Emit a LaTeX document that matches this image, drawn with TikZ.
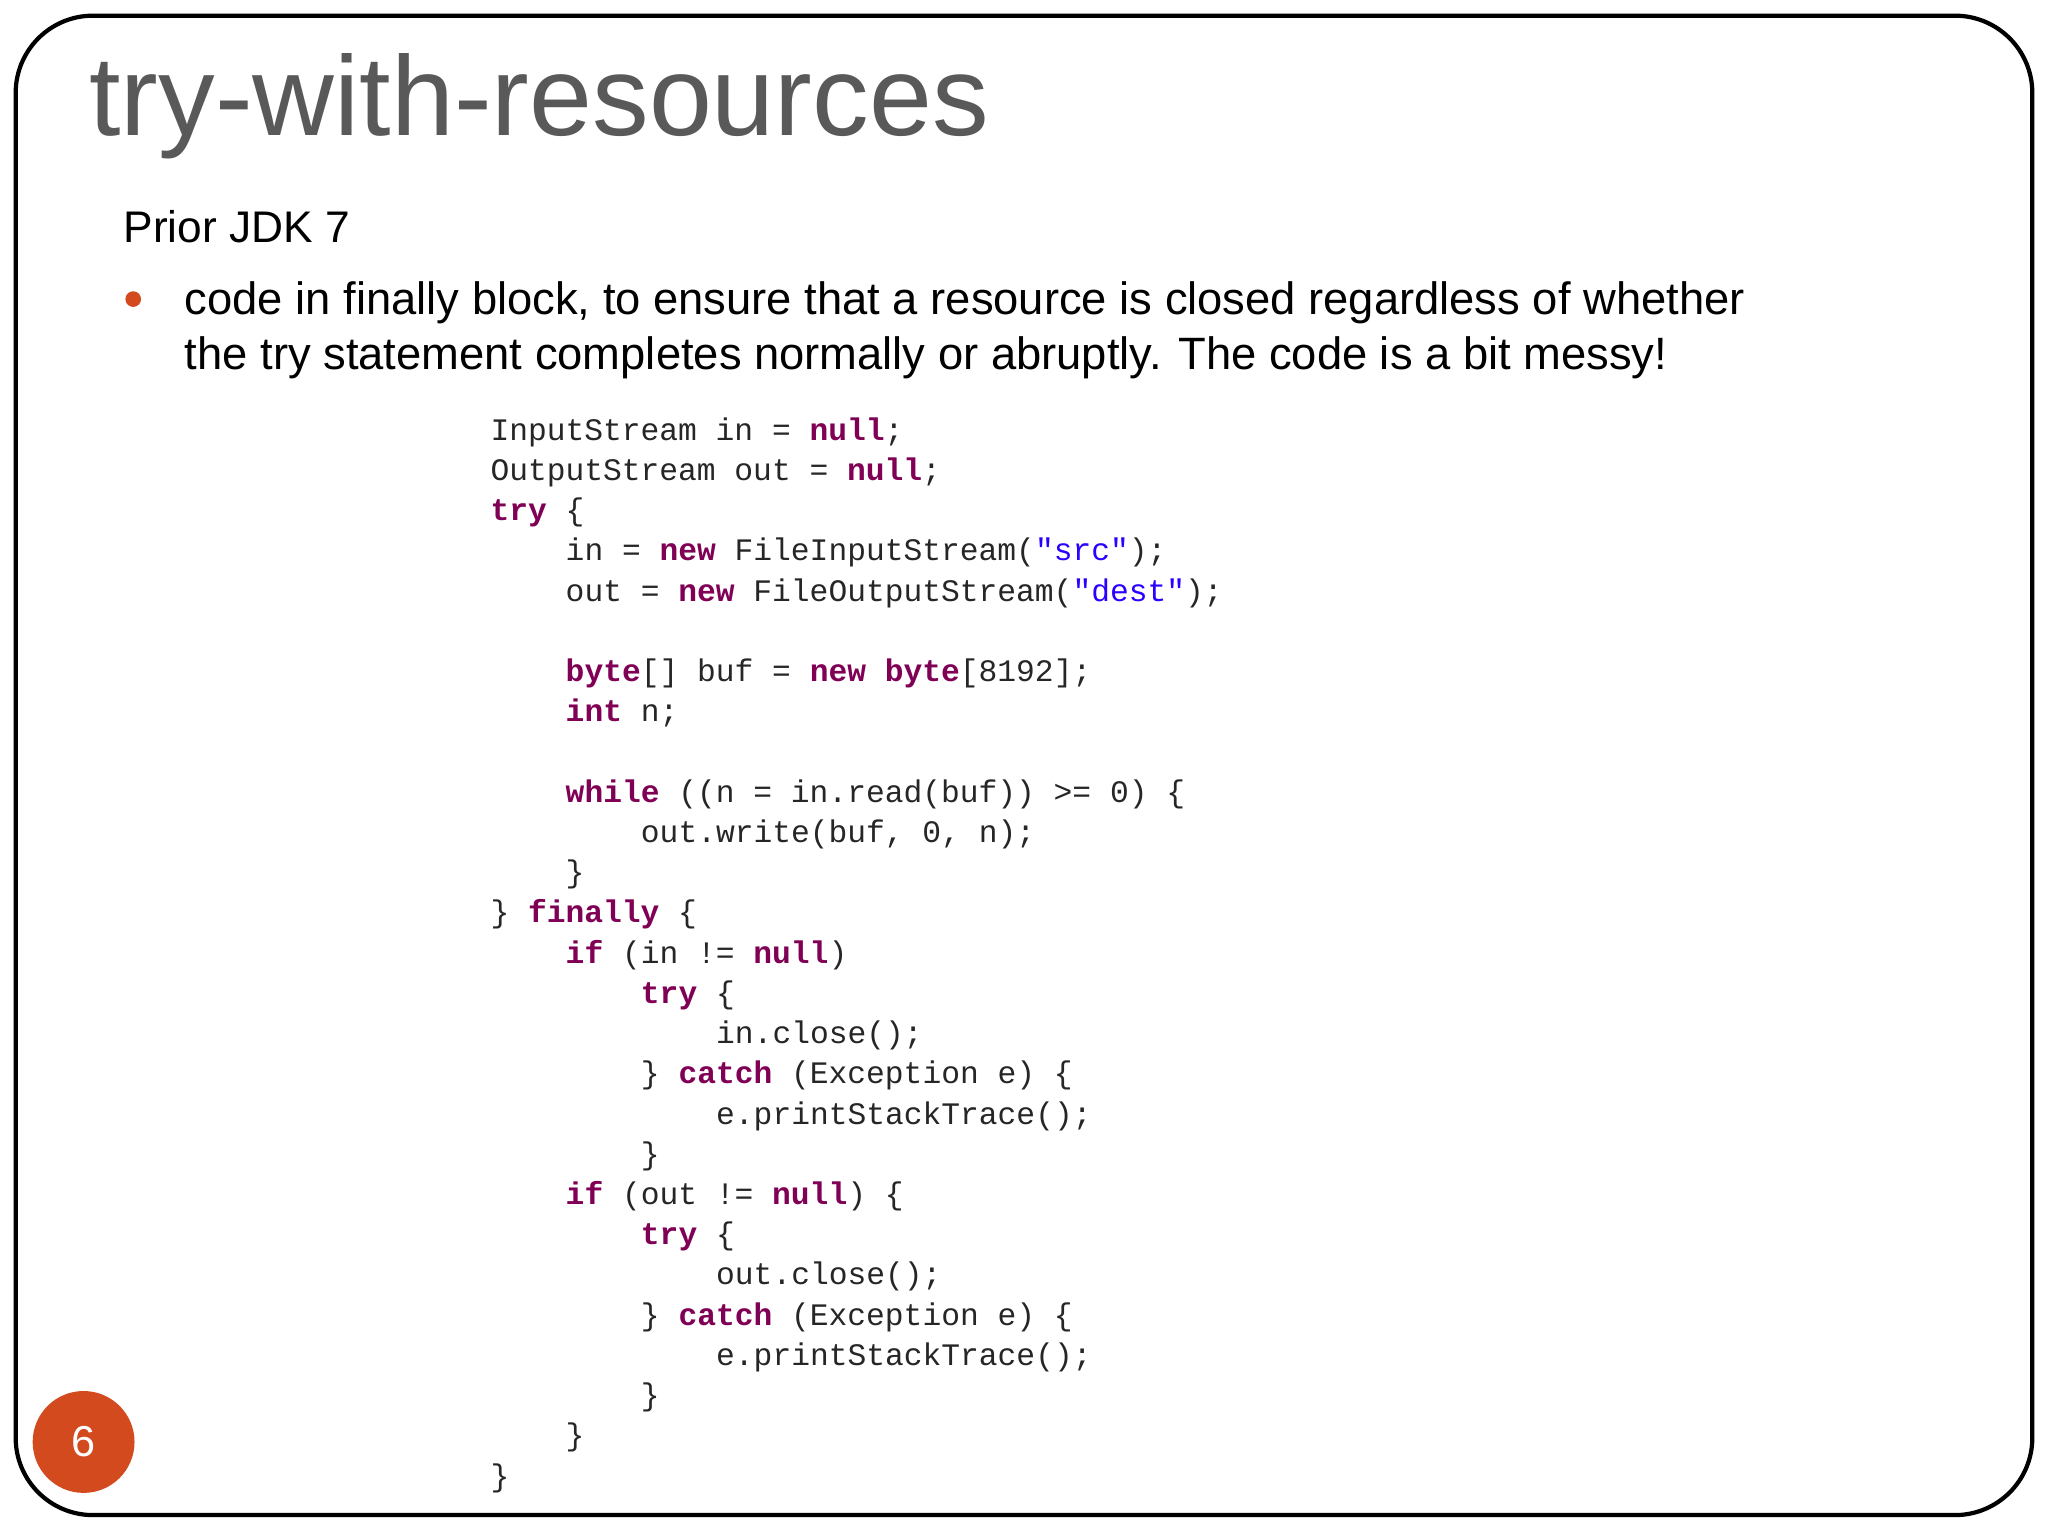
\documentclass[tikz,border=0pt]{standalone}
\usepackage{fontspec}
\setmainfont{Liberation Sans}
\setmonofont{Liberation Mono}
\definecolor{kwc}{HTML}{7F0055}
\definecolor{strc}{HTML}{2A00FF}
\definecolor{orng}{HTML}{D24A1E}
\definecolor{titlec}{HTML}{595959}
\newcommand{\kw}[1]{\textbf{\textcolor{kwc}{#1}}}
\newcommand{\strl}[1]{\textcolor{strc}{#1}}
\tikzset{codeline/.style={anchor=base west,inner sep=0pt,font=\ttfamily\fontsize{8.9}{10}\selectfont,text=black!85}}
\begin{document}
\begin{tikzpicture}[x=0.0130612cm,y=-0.0130612cm]
\useasboundingbox (0,0) rectangle (1568,1176);
\fill[white] (0,0) rectangle (1568,1176);
\draw[line width=1.2pt,rounded corners=22pt] (12,12) rectangle (1556,1160);
\node[anchor=base west,inner sep=0pt,text=titlec,font=\fontsize{32.2}{36}\selectfont] (title) at (68,104) {try-with-resources};
\node[anchor=base west,inner sep=0pt,font=\fontsize{12.6}{14}\selectfont] (prior) at (94,186) {Prior JDK 7};
\fill[orng] (102,229) circle (6) coordinate (bul);
\node[anchor=base west,inner sep=0pt,font=\fontsize{12.9}{14}\selectfont,align=left] (b1) at (141,241) {code in finally block, to ensure that a resource is closed regardless of whether};
\node[anchor=base west,inner sep=0pt,font=\fontsize{12.9}{14}\selectfont,align=left] (b2) at (141,283) {the try statement completes normally or abruptly. The code is a bit messy!};
\def\L#1#2#3{\node[codeline] (l#1) at ({375+#2*14.4},{337+(#1-1)*30.8}) {#3};}
\L{1}{0}{InputStream in = \kw{null};}
\L{2}{0}{OutputStream out = \kw{null};}
\L{3}{0}{\kw{try} \{}
\L{4}{4}{in = \kw{new} FileInputStream(\strl{"src"});}
\L{5}{4}{out = \kw{new} FileOutputStream(\strl{"dest"});}
\L{7}{4}{\kw{byte}[] buf = \kw{new} \kw{byte}[8192];}
\L{8}{4}{\kw{int} n;}
\L{10}{4}{\kw{while} ((n = in.read(buf)) >= 0) \{}
\L{11}{8}{out.write(buf, 0, n);}
\L{12}{4}{\}}
\L{13}{0}{\} \kw{finally} \{}
\L{14}{4}{\kw{if} (in != \kw{null})}
\L{15}{8}{\kw{try} \{}
\L{16}{12}{in.close();}
\L{17}{8}{\} \kw{catch} (Exception e) \{}
\L{18}{12}{e.printStackTrace();}
\L{19}{8}{\}}
\L{20}{4}{\kw{if} (out != \kw{null}) \{}
\L{21}{8}{\kw{try} \{}
\L{22}{12}{out.close();}
\L{23}{8}{\} \kw{catch} (Exception e) \{}
\L{24}{12}{e.printStackTrace();}
\L{25}{8}{\}}
\L{26}{4}{\}}
\L{27}{0}{\}}
\node[circle,fill=orng,minimum size=78*0.0130612cm,inner sep=0pt,text=white,font=\fontsize{12.3}{14}\selectfont] (pg) at (64,1104) {6};
\end{tikzpicture}
\end{document}
